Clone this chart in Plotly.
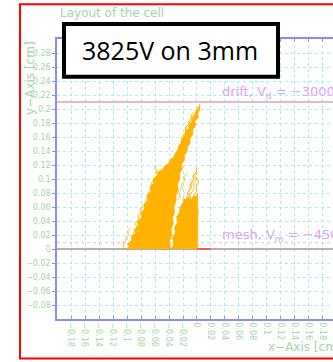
import plotly.graph_objects as go

# ---------------- data ----------------
x_range = [-0.2, 0.1943]
y_range = [-0.1, 0.3]

x_tick_vals = [-0.18, -0.16, -0.14, -0.12, -0.10, -0.08, -0.06, -0.04, -0.02, 0.0,
               0.02, 0.04, 0.06, 0.08, 0.10, 0.12, 0.14, 0.16, 0.18]
x_tick_text = ["−0.18", "−0.16", "−0.14", "−0.12", "−0.1", "−0.08", "−0.06", "−0.04", "−0.02", "0",
               "0.02", "0.04", "0.06", "0.08", "0.1", "0.12", "0.14", "0.16", "0.18"]
y_tick_vals = [-0.08, -0.06, -0.04, -0.02, 0.0, 0.02, 0.04, 0.06, 0.08, 0.10,
               0.12, 0.14, 0.16, 0.18, 0.20, 0.22, 0.24, 0.26, 0.28]
y_tick_text = ["−0.08", "−0.06", "−0.04", "−0.02", "0", "0.02", "0.04", "0.06", "0.08", "0.1",
               "0.12", "0.14", "0.16", "0.18", "0.2", "0.22", "0.24", "0.26", "0.28"]

drift_y = 0.21
mesh_y = 0.0
faint_y = 0.009
mesh_wire_x = [0.0, 0.02]

# dense part of the avalanche (outline)
main_x = [-0.101, -0.097, -0.099, -0.093, -0.094, -0.088, -0.089, -0.084, -0.085, -0.079,
          -0.080, -0.075, -0.076, -0.070, -0.072, -0.066, -0.067, -0.062, -0.063, -0.057,
          -0.055, -0.049, -0.046, -0.040, -0.038, -0.033, -0.031, -0.027, -0.026, -0.022,
          -0.021, -0.017, -0.016, -0.012, -0.011, -0.007, -0.006, -0.002, -0.001, 0.002,
          0.004,
          0.004, 0.001, 0.002, -0.003, -0.002, -0.006, -0.006, -0.010, -0.010, -0.014,
          -0.014, -0.018, -0.018, -0.022, -0.021, -0.025, -0.025, -0.028, -0.027, -0.030,
          -0.030, -0.033, -0.032, -0.035, -0.034, -0.037, -0.036, -0.039, -0.038]
main_y = [0.000, 0.004, 0.008, 0.012, 0.018, 0.022, 0.028, 0.033, 0.040, 0.045,
          0.052, 0.057, 0.064, 0.069, 0.076, 0.082, 0.089, 0.094, 0.100, 0.105,
          0.111, 0.114, 0.119, 0.122, 0.128, 0.131, 0.137, 0.142, 0.148, 0.152,
          0.158, 0.162, 0.168, 0.172, 0.178, 0.182, 0.188, 0.192, 0.198, 0.201,
          0.205,
          0.199, 0.194, 0.188, 0.183, 0.176, 0.171, 0.164, 0.158, 0.151, 0.146,
          0.139, 0.134, 0.127, 0.121, 0.114, 0.108, 0.099, 0.092, 0.084, 0.077,
          0.068, 0.061, 0.052, 0.045, 0.036, 0.029, 0.020, 0.012, 0.000]

second_x = [-0.036, -0.033, -0.035, -0.031, -0.032, -0.028, -0.029, -0.025, -0.024, -0.020,
            -0.019, -0.015, -0.012, -0.008, -0.005, -0.001, 0.001, 0.001, 0.000, 0.001, 0.001]
second_y = [0.000, 0.008, 0.016, 0.023, 0.031, 0.038, 0.046, 0.052, 0.060, 0.066,
            0.072, 0.070, 0.074, 0.070, 0.076, 0.074, 0.080, 0.060, 0.040, 0.020, 0.000]

# individual electron tracks
track_x = [
    [-0.107, -0.104, -0.106, -0.102, -0.101, -0.098, -0.099, -0.095],
    [-0.096, -0.093, -0.095, -0.090, -0.091, -0.089, -0.086, -0.088, -0.083, -0.084,
     -0.080, -0.081, -0.077],
    [-0.085, -0.082, -0.083, -0.079, -0.081, -0.076, -0.077, -0.073, -0.074, -0.071,
     -0.072, -0.068, -0.069, -0.064, -0.066, -0.061],
    [-0.052, -0.055, -0.054, -0.058, -0.057, -0.061, -0.059],
    [-0.045, -0.041, -0.042, -0.037, -0.035, -0.036, -0.031, -0.030, -0.026, -0.027,
     -0.023, -0.021, -0.022, -0.018, -0.016, -0.017, -0.012, -0.011, -0.007, -0.008,
     -0.003, -0.002, 0.001, 0.000, 0.004, 0.003, 0.005],
    [-0.034, -0.031, -0.033, -0.028, -0.029, -0.025, -0.026, -0.021, -0.023, -0.018,
     -0.019, -0.014, -0.016, -0.011, -0.012, -0.007, -0.009, -0.004],
    [-0.060, -0.056, -0.057, -0.052, -0.050, -0.046, -0.047, -0.042, -0.040, -0.036],
    [-0.033, -0.030, -0.031, -0.027, -0.028, -0.024, -0.022, -0.023, -0.018, -0.019,
     -0.015, -0.013, -0.014, -0.009, -0.010, -0.006, -0.004, -0.005, -0.001, 0.000],
    [-0.022, -0.019, -0.020, -0.016, -0.017, -0.012, -0.013, -0.009, -0.010, -0.006,
     -0.004, -0.005, -0.001, -0.002, 0.001],
    [-0.012, -0.009, -0.010, -0.006, -0.007, -0.003, -0.004, 0.000, -0.001, 0.002, 0.001],
    [-0.006, -0.003, -0.004, 0.000, -0.001, 0.002, 0.001],
    [-0.040, -0.036, -0.037, -0.033, -0.034, -0.030],
    [-0.016, -0.013, -0.015, -0.011, -0.012, -0.008, -0.009, -0.005, -0.006, -0.002],
    [-0.028, -0.024, -0.026, -0.021, -0.022, -0.017, -0.019, -0.014],
]
track_y = [
    [0.000, 0.004, 0.009, 0.012, 0.017, 0.020, 0.026, 0.030],
    [0.000, 0.006, 0.011, 0.016, 0.022, 0.027, 0.031, 0.037, 0.042, 0.048,
     0.052, 0.058, 0.063],
    [0.010, 0.016, 0.022, 0.027, 0.034, 0.039, 0.046, 0.051, 0.058, 0.063,
     0.070, 0.075, 0.082, 0.087, 0.094, 0.099],
    [0.098, 0.101, 0.106, 0.108, 0.113, 0.115, 0.119],
    [0.095, 0.101, 0.108, 0.112, 0.118, 0.124, 0.128, 0.134, 0.138, 0.145,
     0.149, 0.153, 0.159, 0.163, 0.167, 0.173, 0.177, 0.181, 0.184, 0.189,
     0.192, 0.196, 0.198, 0.202, 0.203, 0.206, 0.207],
    [0.110, 0.116, 0.121, 0.126, 0.132, 0.137, 0.143, 0.148, 0.154, 0.158,
     0.164, 0.168, 0.174, 0.178, 0.183, 0.187, 0.191, 0.195],
    [0.090, 0.094, 0.099, 0.103, 0.108, 0.111, 0.116, 0.119, 0.124, 0.127],
    [0.010, 0.017, 0.024, 0.029, 0.036, 0.041, 0.047, 0.054, 0.058, 0.065,
     0.070, 0.075, 0.081, 0.085, 0.091, 0.096, 0.100, 0.106, 0.110, 0.116],
    [0.030, 0.036, 0.043, 0.048, 0.055, 0.060, 0.067, 0.072, 0.078, 0.083,
     0.088, 0.094, 0.098, 0.104, 0.109],
    [0.040, 0.047, 0.054, 0.059, 0.066, 0.071, 0.078, 0.083, 0.090, 0.095, 0.101],
    [0.010, 0.018, 0.027, 0.034, 0.043, 0.050, 0.058],
    [0.040, 0.046, 0.053, 0.058, 0.065, 0.070],
    [0.060, 0.066, 0.071, 0.077, 0.083, 0.088, 0.094, 0.099, 0.104, 0.108],
    [0.070, 0.076, 0.082, 0.087, 0.093, 0.098, 0.103, 0.108],
]

title_text = "Layout of the cell"
box_text = "3825V on 3mm"
drift_label = "drift, V<sub>d</sub> = −3000V"
mesh_label = "mesh, V<sub>m</sub> = −450V"

# ---------------- styles ----------------
ORANGE = "#ffb300"
GREEN = "#a3d6a3"
VIOLET = "#dba3f2"
AXIS = "#8c8cf0"
GRID = "#a6eef4"
FONT = "DejaVu Sans"

fig = go.Figure()

# horizontal electrode lines
fig.add_trace(go.Scatter(x=x_range, y=[faint_y, faint_y], mode="lines",
                         line=dict(color="#d6c6d6", width=1, dash="dot"), hoverinfo="skip"))
fig.add_trace(go.Scatter(x=x_range, y=[drift_y, drift_y], mode="lines",
                         line=dict(color="#c27f80", width=1.2), hoverinfo="skip"))
fig.add_trace(go.Scatter(x=x_range, y=[mesh_y, mesh_y], mode="lines",
                         line=dict(color="#a89494", width=1.6), hoverinfo="skip"))

# dense avalanche regions
fig.add_trace(go.Scatter(x=main_x, y=main_y, mode="lines", fill="toself",
                         fillcolor=ORANGE, line=dict(color=ORANGE, width=0.8), hoverinfo="skip"))
fig.add_trace(go.Scatter(x=second_x, y=second_y, mode="lines", fill="toself",
                         fillcolor=ORANGE, line=dict(color=ORANGE, width=0.8), hoverinfo="skip"))
for tx, ty in zip(track_x, track_y):
    fig.add_trace(go.Scatter(x=tx, y=ty, mode="lines",
                             line=dict(color=ORANGE, width=0.9), hoverinfo="skip"))

# red mesh wire piece
fig.add_trace(go.Scatter(x=mesh_wire_x, y=[mesh_y, mesh_y], mode="lines",
                         line=dict(color="#ff5a5a", width=2), hoverinfo="skip"))

fig.update_layout(
    width=333, height=362,
    margin=dict(l=57, r=0, t=39, b=43),
    paper_bgcolor="white", plot_bgcolor="white",
    showlegend=False,
    xaxis=dict(range=x_range, tickvals=x_tick_vals, ticktext=x_tick_text,
               tickangle=90, tickfont=dict(family=FONT, size=8, color=GREEN),
               showgrid=True, gridcolor=GRID, griddash="dot", gridwidth=1,
               zeroline=False, showline=True, linecolor=AXIS, linewidth=1.5,
               mirror="ticks", ticks="inside", ticklen=3, tickcolor=AXIS),
    yaxis=dict(range=y_range, tickvals=y_tick_vals, ticktext=y_tick_text,
               tickfont=dict(family=FONT, size=8, color=GREEN),
               showgrid=True, gridcolor=GRID, griddash="dot", gridwidth=1,
               zeroline=False, showline=True, linecolor=AXIS, linewidth=1.5,
               ticks="outside", ticklen=3, tickcolor=AXIS),
    shapes=[
        dict(type="rect", xref="paper", yref="paper", x0=-0.134, x1=1.2, y0=-0.141, y1=1.124,
             line=dict(color="#ff0000", width=2), fillcolor="rgba(0,0,0,0)", layer="above"),
        dict(type="rect", xref="paper", yref="paper", x0=0.0254, x1=0.8007, y0=0.865, y1=1.0536,
             line=dict(color="black", width=4), fillcolor="white", layer="above"),
    ],
    annotations=[
        dict(text=title_text, xref="paper", yref="paper", x=0.0036, y=1.093,
             xanchor="left", yanchor="middle", showarrow=False,
             font=dict(family=FONT, size=12, color=GREEN)),
        dict(text="y−Axis [cm]", xref="paper", yref="paper", x=-0.098, y=1.0,
             xanchor="center", yanchor="top", textangle=-90, showarrow=False,
             font=dict(family=FONT, size=12, color=GREEN)),
        dict(text="x−Axis [cm]", xref="paper", yref="paper", x=0.757, y=-0.1,
             xanchor="left", yanchor="middle", showarrow=False,
             font=dict(family=FONT, size=12, color=GREEN)),
        dict(text=drift_label, xref="x", yref="y", x=0.033, y=0.224,
             xanchor="left", yanchor="middle", showarrow=False,
             font=dict(family=FONT, size=13, color=VIOLET)),
        dict(text=mesh_label, xref="x", yref="y", x=0.033, y=0.0186,
             xanchor="left", yanchor="middle", showarrow=False,
             font=dict(family=FONT, size=13, color=VIOLET)),
        dict(text=box_text, xref="paper", yref="paper", x=0.409, y=0.9607,
             xanchor="center", yanchor="middle", showarrow=False,
             font=dict(family="Open Sans", size=25, color="black")),
    ],
)

fig.write_html("out.html")
